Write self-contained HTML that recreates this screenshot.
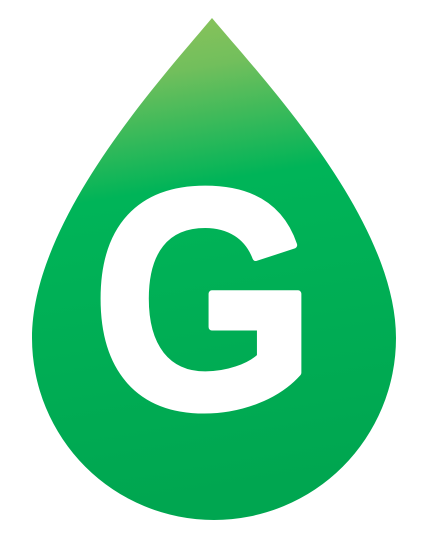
<!DOCTYPE html>
<html>
<head>
<meta charset="utf-8">
<style>
html,body{margin:0;padding:0;background:#fff;}
svg{display:block;}
</style>
</head>
<body>
<svg width="425" height="542" viewBox="0 0 425 542">
  <defs>
    <linearGradient id="g" x1="0" y1="0" x2="0.12" y2="1">
      <stop offset="0" stop-color="#93c45a"/>
      <stop offset="0.15" stop-color="#72bf5c"/>
      <stop offset="0.38" stop-color="#00b458"/>
      <stop offset="1" stop-color="#00a650"/>
    </linearGradient>
  </defs>
  <path
        d="M212,18 C160,80 32,220 32,338 A182,182 0 0 0 396,338 C396,220 264,80 212,18 Z"
        fill="url(#g)"/>
  <text
        x="92" y="407" font-family="Liberation Sans, sans-serif" font-weight="bold"
        font-size="312" fill="#fff" stroke="#fff" stroke-width="7" stroke-linejoin="round"
        textLength="224" lengthAdjust="spacingAndGlyphs">G</text>
</svg>
</body>
</html>
